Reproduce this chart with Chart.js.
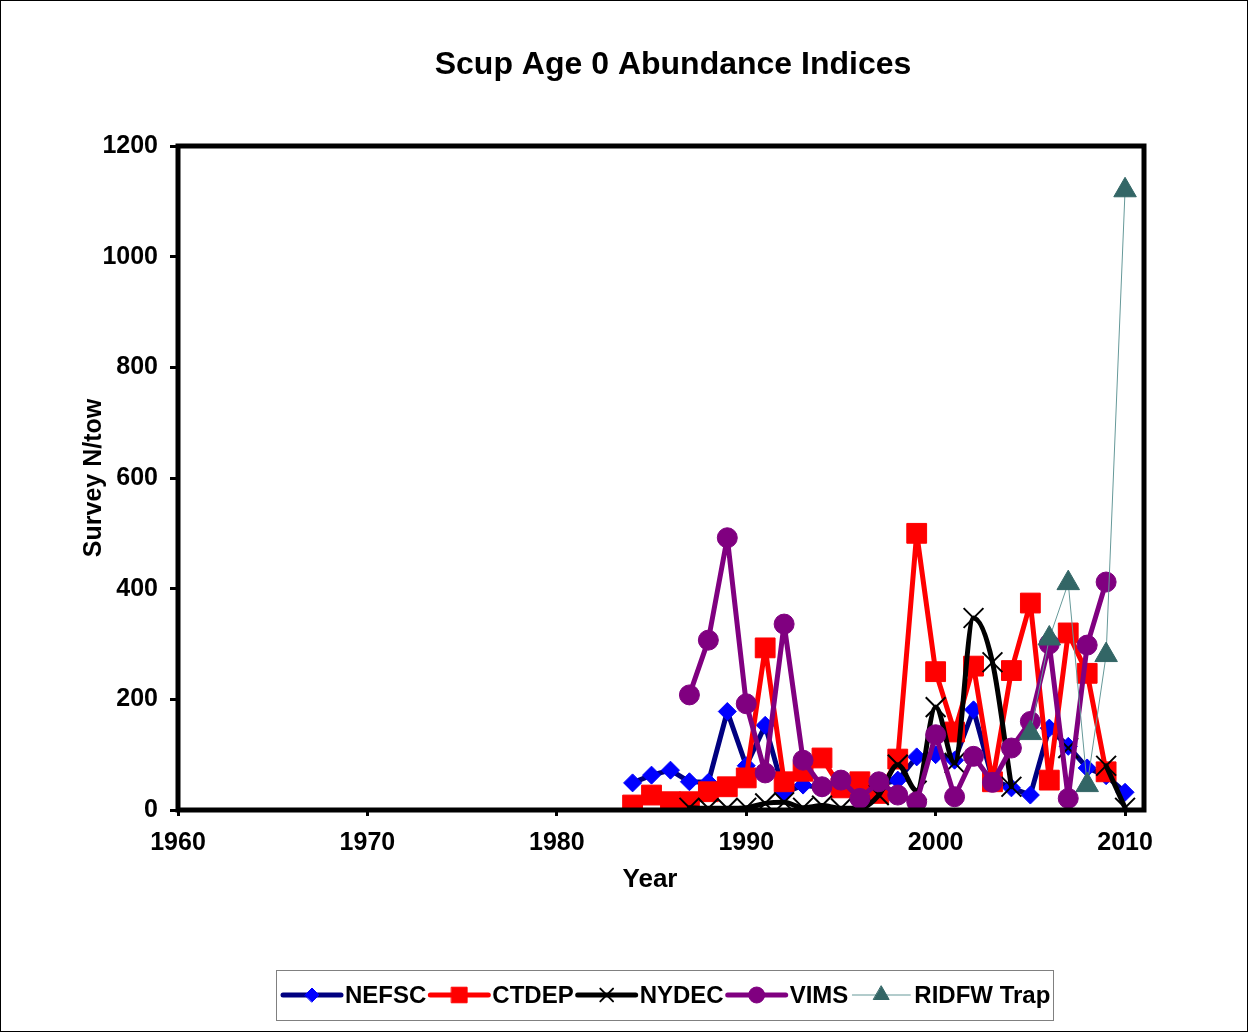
<!DOCTYPE html>
<html><head><meta charset="utf-8">
<script src="https://cdn.jsdelivr.net/npm/chart.js@4.4.1/dist/chart.umd.min.js"></script>
<style>html,body{margin:0;padding:0;background:#fff;}canvas{display:block;}</style>
</head><body>
<canvas id="c" width="1249" height="1033"></canvas>
<script>
// ---- data ----
const chartTitle = 'Scup Age 0 Abundance Indices';
const xTitle = 'Year';
const yTitle = 'Survey N/tow';
const years = [1984,1985,1986,1987,1988,1989,1990,1991,1992,1993,1994,1995,1996,1997,1998,1999,2000,2001,2002,2003,2004,2005,2006,2007,2008,2009,2010];
const nefsc = [49,63,72,51,50,178,80,153,31,45,40,40,45,45,54,96,100,90,181,55,40,27,148,115,76,62,32];
const ctdep = [9,27,15,15,33,42,58,293,51,70,94,40,51,30,92,500,250,141,260,51,252,374,54,320,247,69,null];
const nydec = [null,null,null,4,3,3,4,12,14,4,8,3,3,27,82,35,186,85,347,267,42,null,null,112,null,80,4];
const vims  = [null,null,null,208,307,492,192,67,336,90,42,54,21,51,27,15,136,24,97,50,112,160,300,21,298,412,null];
const ridfw = [null,null,null,null,null,null,null,null,null,null,null,null,null,null,null,null,null,null,null,null,null,139,310,410,45,280,1120];
const seriesNames = ['NEFSC','CTDEP','NYDEC','VIMS','RIDFW Trap'];
const xTickValues = [1960,1970,1980,1990,2000,2010];
const yTickValues = [0,200,400,600,800,1000,1200];

const FONT = '"Liberation Sans", Arial, Helvetica, sans-serif';
function pts(vals){ return years.map((yr,i)=>({x:yr, y:vals[i]})); }

const framePlugin = {
  id:'frame',
  afterDatasetsDraw(chart){
    const {ctx, chartArea:a} = chart;
    ctx.save();
    ctx.strokeStyle='#000'; ctx.lineWidth=5;
    ctx.strokeRect(a.left, a.top, a.right-a.left, a.bottom-a.top);
    ctx.restore();
  },
  afterDraw(chart){
    const ctx = chart.ctx;
    ctx.save();
    ctx.strokeStyle='#000'; ctx.lineWidth=1;
    ctx.strokeRect(0.5,0.5,1247,1031);
    ctx.fillStyle='#000';
    ctx.font='bold 32px '+FONT;
    ctx.textAlign='center'; ctx.textBaseline='middle';
    ctx.fillText(chartTitle, 673, 65);
    ctx.font='bold 26px '+FONT;
    ctx.fillText(xTitle, 650, 880);
    // legend
    const lx0=276, ly0=970, lx1=1053, ly1=1020, cy=(ly0+ly1)/2;
    ctx.strokeStyle='#808080'; ctx.lineWidth=1;
    ctx.strokeRect(lx0+0.5, ly0+0.5, lx1-lx0, ly1-ly0);
    ctx.font='bold 24px '+FONT;
    ctx.textAlign='left';
    let x = 283;
    chart.data.datasets.forEach((ds)=>{
      ctx.save();
      ctx.strokeStyle = ds.borderColor; ctx.lineWidth = ds.borderWidth; ctx.lineCap='round';
      ctx.beginPath(); ctx.moveTo(x, cy); ctx.lineTo(x+58, cy); ctx.stroke();
      ctx.fillStyle = ds.pointBackgroundColor; ctx.strokeStyle = ds.pointBorderColor; ctx.lineWidth = ds.pointBorderWidth;
      Chart.helpers.drawPoint(ctx, {pointStyle: ds.pointStyle, radius: ds.legendRadius, borderWidth: ds.pointBorderWidth, rotation:0}, x+29, cy);
      ctx.restore();
      ctx.fillStyle='#000';
      ctx.textBaseline='middle';
      ctx.fillText(ds.label, x+62, cy+1);
      x = x + 62 + ctx.measureText(ds.label).width + 4;
    });
    ctx.restore();
  }
};

new Chart(document.getElementById('c'), {
  type:'line',
  data:{ datasets:[
    {label:seriesNames[0], data:pts(nefsc), borderColor:'#000080', borderWidth:5, pointStyle:'rectRot', pointRadius:9, legendRadius:7, pointBackgroundColor:'#0000FF', pointBorderColor:'#0000FF', pointBorderWidth:1, order:4},
    {label:seriesNames[1], data:pts(ctdep), borderColor:'#FF0000', borderWidth:5, pointStyle:'rect', pointRadius:14, legendRadius:11, pointBackgroundColor:'#FF0000', pointBorderColor:'#FF0000', pointBorderWidth:1, order:3},
    {label:seriesNames[2], data:pts(nydec), borderColor:'#000000', borderWidth:5, cubicInterpolationMode:'monotone', pointStyle:'crossRot', pointRadius:14, legendRadius:9, pointBackgroundColor:'#000000', pointBorderColor:'#000000', pointBorderWidth:2, order:2},
    {label:seriesNames[3], data:pts(vims), borderColor:'#800080', borderWidth:5, pointStyle:'circle', pointRadius:10, legendRadius:8, pointBackgroundColor:'#800080', pointBorderColor:'#800080', pointBorderWidth:1, order:1},
    {label:seriesNames[4], data:pts(ridfw), borderColor:'#669999', borderWidth:1, pointStyle:'triangle', pointRadius:13, legendRadius:9, pointBackgroundColor:'#336666', pointBorderColor:'#336666', pointBorderWidth:1, order:0}
  ]},
  options:{
    responsive:false, animation:false, devicePixelRatio:1,
    spanGaps:false,
    layout:{padding:{top:146, right:105, left:0, bottom:0}},
    plugins:{legend:{display:false}, title:{display:false}, tooltip:{enabled:false}},
    elements:{line:{fill:false, borderJoinStyle:'round', borderCapStyle:'round'}, point:{hoverRadius:0}},
    scales:{
      x:{type:'linear', min:1960, max:2011,
        afterBuildTicks(s){ s.ticks = xTickValues.map(v=>({value:v})); },
        afterFit(s){ s.height = 223; },
        border:{display:false},
        grid:{display:true, drawOnChartArea:false, drawTicks:true, tickLength:6, tickColor:'#000', tickWidth:3},
        ticks:{color:'#000', padding:12, maxRotation:0, autoSkip:false, font:{family:FONT, size:25, weight:'bold'}, callback:v=>String(v)}
      },
      y:{type:'linear', min:0, max:1200,
        afterBuildTicks(s){ s.ticks = yTickValues.map(v=>({value:v})); },
        afterFit(s){ s.width = 178; },
        border:{display:false},
        grid:{display:true, drawOnChartArea:false, drawTicks:true, tickLength:8, tickColor:'#000', tickWidth:3},
        ticks:{color:'#000', padding:12, font:{family:FONT, size:25, weight:'bold'}, callback:v=>String(v)},
        title:{display:true, text:yTitle, color:'#000', padding:{top:79, bottom:0}, font:{family:FONT, size:25, weight:'bold'}}
      }
    }
  },
  plugins:[framePlugin]
});
</script>
</body></html>
